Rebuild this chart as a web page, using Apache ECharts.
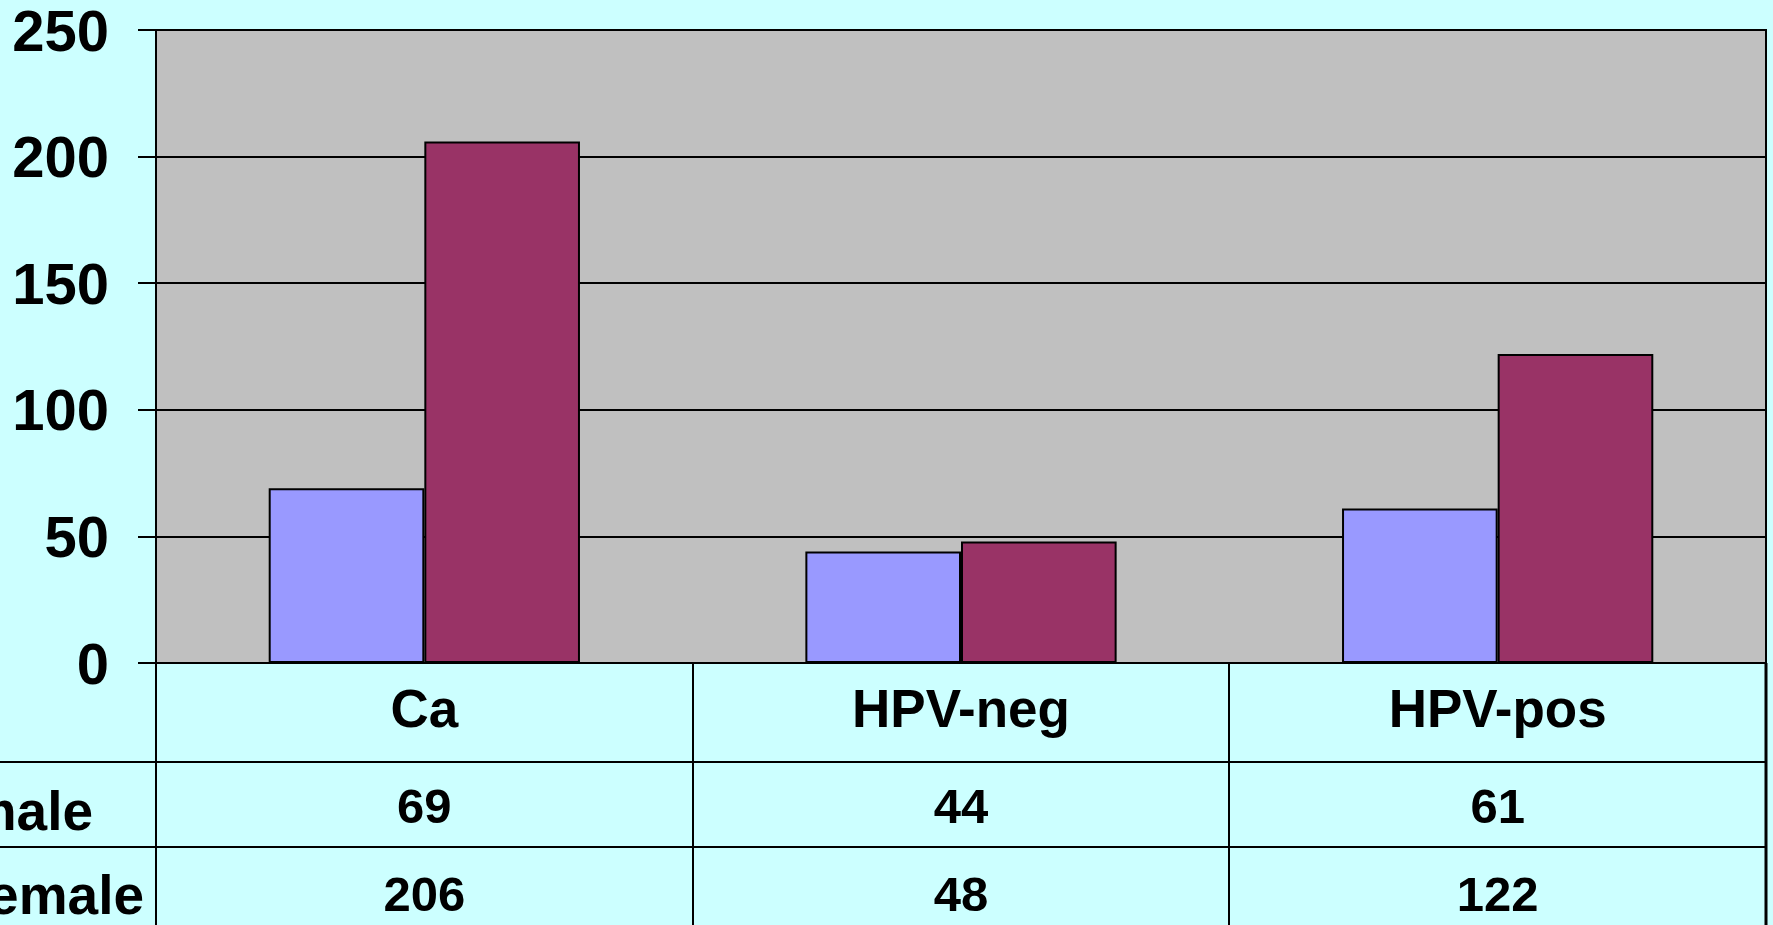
<!DOCTYPE html>
<html>
<head>
<meta charset="utf-8">
<script src="https://cdn.jsdelivr.net/npm/echarts@6/dist/echarts.min.js"></script>
<style>
	html, body { margin: 0; padding: 0; background: #CCFFFF; }
	#chart { width: 1773px; height: 925px; }
</style>
</head>
<body>
<div id="chart"></div>
<script>
	// data
	var categories = ['Ca', 'HPV-neg', 'HPV-pos'];
	var maleValues = [69, 44, 61];
	var femaleValues = [206, 48, 122];
	var rowNames = ['male', 'female'];

	var font = '"Liberation Sans", Arial, sans-serif';
	var chart = echarts.init(document.getElementById('chart'));

	chart.setOption({
		backgroundColor: '#CCFFFF',
		animation: false,
		grid: {
			left: 156,
			right: 7,
			top: 30,
			bottom: 262,
			show: true,
			backgroundColor: '#C0C0C0',
			borderColor: '#000',
			borderWidth: 2
		},
		xAxis: {
			type: 'category',
			data: categories,
			axisLine: { lineStyle: { color: '#000', width: 2 } },
			axisTick: { show: false },
			axisLabel: {
				interval: 0,
				margin: 1,
				color: '#000',
				fontFamily: font,
				fontWeight: 'bold',
				// table rows: category, male, female
				formatter: function (val, idx) {
					return '{c|' + val + '}\n{m|' + maleValues[idx] + '}\n{f|' + femaleValues[idx] + '}';
				},
				rich: {
					c: { fontSize: 53, lineHeight: 96, fontWeight: 'bold', fontFamily: font, color: '#000' },
					m: { fontSize: 49, lineHeight: 98, fontWeight: 'bold', fontFamily: font, color: '#000' },
					f: { fontSize: 49, lineHeight: 78, fontWeight: 'bold', fontFamily: font, color: '#000' }
				}
			}
		},
		yAxis: {
			type: 'value',
			min: 0,
			max: 250,
			interval: 50,
			axisLine: { show: true, lineStyle: { color: '#000', width: 2 } },
			axisTick: { show: true, length: 18, lineStyle: { color: '#000', width: 2 } },
			splitLine: { lineStyle: { color: '#000', width: 2 } },
			axisLabel: {
				margin: 47,
				color: '#000',
				fontWeight: 'bold',
				fontFamily: font,
				formatter: function (val) {
					return '{v|' + val + '}';
				},
				rich: {
					v: { fontSize: 58, fontWeight: 'bold', fontFamily: font, color: '#000', padding: [9, 0, 0, 0] }
				}
			}
		},
		series: [{
			name: rowNames[0],
			type: 'bar',
			data: maleValues,
			barGap: '0%',
			barCategoryGap: '42%',
			itemStyle: { color: '#9999FF', borderColor: '#000', borderWidth: 2 }
		}, {
			name: rowNames[1],
			type: 'bar',
			data: femaleValues,
			barGap: '0%',
			barCategoryGap: '42%',
			itemStyle: { color: '#993366', borderColor: '#000', borderWidth: 2 }
		}],
		graphic: [
			// data table grid under the plot
			{ type: 'line', shape: { x1: 0, y1: 762, x2: 1766, y2: 762 }, style: { stroke: '#000', lineWidth: 2 } },
			{ type: 'line', shape: { x1: 0, y1: 847, x2: 1766, y2: 847 }, style: { stroke: '#000', lineWidth: 2 } },
			{ type: 'line', shape: { x1: 156, y1: 663, x2: 156, y2: 925 }, style: { stroke: '#000', lineWidth: 2 } },
			{ type: 'line', shape: { x1: 693, y1: 663, x2: 693, y2: 925 }, style: { stroke: '#000', lineWidth: 2 } },
			{ type: 'line', shape: { x1: 1229, y1: 663, x2: 1229, y2: 925 }, style: { stroke: '#000', lineWidth: 2 } },
			{ type: 'line', shape: { x1: 1766, y1: 663, x2: 1766, y2: 925 }, style: { stroke: '#000', lineWidth: 3 } },
			{ type: 'text', x: 93, y: 815, style: { text: rowNames[0], font: 'bold 55px ' + font, fill: '#000', textAlign: 'right', textVerticalAlign: 'middle' } },
			{ type: 'text', x: 144, y: 899, style: { text: rowNames[1], font: 'bold 55px ' + font, fill: '#000', textAlign: 'right', textVerticalAlign: 'middle' } }
		]
	});
</script>
</body>
</html>
